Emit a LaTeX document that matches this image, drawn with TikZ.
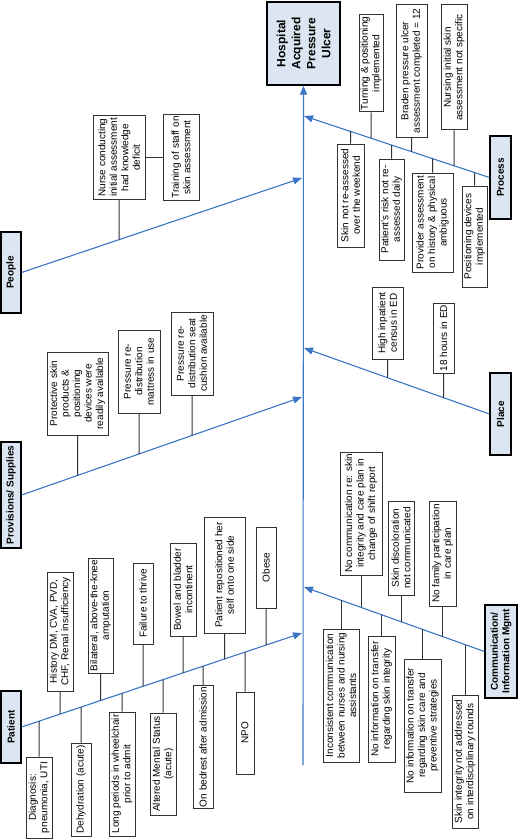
\documentclass[tikz,border=0pt]{standalone}
\usepackage{fontspec}
\setmainfont{Liberation Sans}
\usetikzlibrary{arrows.meta}

\definecolor{fishblue}{RGB}{59,117,196}
\definecolor{catfill}{RGB}{220,230,242}

\begin{document}
\begin{tikzpicture}[x=1pt,y=-1pt,
  every node/.style={font=\fontsize{10}{11.5}\selectfont},
  cause/.style={draw=black!80,fill=white,line width=1pt,rotate=90,align=center,inner sep=1pt},
  cat/.style={draw=black,fill=catfill,line width=1.2pt,rotate=90,align=center,inner sep=1pt,font=\bfseries\fontsize{10}{11.5}\selectfont},
  boxsize/.style 2 args={minimum width=#1pt,minimum height=#2pt},
  bone/.style={draw=fishblue,line width=1.1pt,-{Triangle[length=9pt,width=7pt]}},
  stem/.style={black!80,line width=1pt}
]
  \useasboundingbox (0,0) rectangle (518,840);

  \node[cat,boxsize={83}{73},line width=1.4pt,font=\bfseries\fontsize{12}{15}\selectfont] (head) at (303.5,43.5) {Hospital\\Acquired\\Pressure\\Ulcer};

  \node[cat,boxsize={81}{20}]  (people)  at (11,272.5)   {People};
  \node[cat,boxsize={106}{20}] (supply)  at (11,495)     {Provisions/ Supplies};
  \node[cat,boxsize={72}{20}]  (patient) at (11,727)     {Patient};
  \node[cat,boxsize={83}{21}]  (process) at (500.5,177.5) {Process};
  \node[cat,boxsize={82}{21}]  (place)   at (500.5,414)  {Place};
  \node[cat,boxsize={93}{32}]  (comm)    at (501,651.5)  {Communication/\\Information Mgmt};

  \coordinate (spB) at (303,765);
  \coordinate (peT) at (302,178);
  \coordinate (pvT) at (302,397);
  \coordinate (paT) at (302,633);
  \coordinate (prT) at (304,116);
  \coordinate (plT) at (304,348);
  \coordinate (coT) at (304,587);
  \coordinate (peS) at (people.south);
  \coordinate (pvS) at (supply.south);
  \coordinate (paS) at (patient.south);
  \coordinate (prS) at (process.north);
  \coordinate (plS) at (place.north);
  \coordinate (coS) at (comm.north);

  \draw[bone] (spB) -- (head.west);
  \foreach \c in {pe,pv,pa,pr,pl,co} \draw[bone] (\c S) -- (\c T);

  % people
  \node[cause,boxsize={83}{52}] (pe1) at (119,157.5) {Nurse conducting\\initial assessment\\had knowledge\\deficit};
  \node[cause,boxsize={85}{36}] (pe2) at (181,157.5) {Training of staff on\\skin assessment};
  \draw[stem] (pe1.south) -- (pe2.north);

  % process
  \node[cause,boxsize={97}{24}]  (pr1) at (371,63.5)    {Turning \& positioning\\implemented};
  \node[cause,boxsize={132}{31}] (pr2) at (411.5,71)    {Braden pressure ulcer\\assessment completed = 12};
  \node[cause,boxsize={125}{26}] (pr3) at (454,67.5)    {Nursing initial skin\\assessment not specific};
  \node[cause,boxsize={103}{27}] (pr4) at (350.5,195.5) {Skin not re-assessed\\over the weekend};
  \node[cause,boxsize={101}{25}] (pr5) at (391.5,209.5) {Patient's risk not re-\\assessed daily};
  \node[cause,boxsize={99}{41}]  (pr6) at (432.5,222.5) {Provider assessment\\on history \& physical\\ambiguous};
  \node[cause,boxsize={101}{25}] (pr7) at (474.5,236.5) {Positioning devices\\implemented};

  % place
  \node[cause,boxsize={72}{31}] (pl1) at (387.5,323) {High inpatient\\census in ED};
  \node[cause,boxsize={70}{21}] (pl2) at (443.5,338) {18 hours in ED};

  % provisions
  \node[cause,boxsize={83}{61}] (pv1) at (77.5,393.5) {Protective skin\\products \&\\positioning\\devices were\\readily available};
  \node[cause,boxsize={83}{42}] (pv2) at (139,371.5)  {Pressure re-\\distribution\\mattress in use};
  \node[cause,boxsize={83}{42}] (pv3) at (192,353.5)  {Pressure re-\\distribution seat\\cushion available};

  % patient
  \node[cause,boxsize={119}{26}] (pa1) at (60,631.5)  {History DM, CVA, PVD,\\CHF, Renal insufficiency};
  \node[cause,boxsize={115}{25}] (pa2) at (100.5,615.5) {Bilateral, above-the-knee\\amputation};
  \node[cause,boxsize={81}{20}]  (pa3) at (143,603.5) {Failure to thrive};
  \node[cause,boxsize={93}{26}]  (pa4) at (183,589.5) {Bowel and bladder\\incontinent};
  \node[cause,boxsize={116}{41}] (pa5) at (224.5,575) {Patient repositioned her\\self onto one side};
  \node[cause,boxsize={81}{20}]  (pa6) at (266,567.5) {Obese};
  \node[cause,boxsize={81}{26}]  (pa7) at (39,797.5)  {Diagnosis:\\pneumonia, UTI};
  \node[cause,boxsize={93}{20}]  (pa8) at (81,789.5)  {Dehydration (acute)};
  \node[cause,boxsize={124}{26}] (pa9) at (122,774)   {Long periods in wheelchair\\prior to admit};
  \node[cause,boxsize={102}{26}] (pa10) at (163,764)  {Altered Mental Status\\(acute)};
  \node[cause,boxsize={122}{20}] (pa11) at (203,747)  {On bedrest after admission};
  \node[cause,boxsize={82}{18}]  (pa12) at (245,733)  {NPO};

  % communication
  \node[cause,boxsize={123}{42}] (co1) at (361,513.5)   {No communication re: skin\\integrity and care plan in\\change of shift report};
  \node[cause,boxsize={94}{26}]  (co2) at (401,548)     {Skin discoloration\\not communicated};
  \node[cause,boxsize={105}{27}] (co3) at (442.5,553.5) {No family participation\\in care plan};
  \node[cause,boxsize={133}{36}] (co4) at (341,695.5)   {Inconsistent communication\\between nurses and nursing\\assistants};
  \node[cause,boxsize={126}{27}] (co5) at (381.5,699)   {No information on transfer\\regarding skin integrity};
  \node[cause,boxsize={133}{37}] (co6) at (422.5,725.5) {No information on transfer\\regarding skin care and\\preventive strategies};
  \node[cause,boxsize={133}{26}] (co7) at (465,761.5)   {Skin integrity not addressed\\on interdisciplinary rounds};

  \foreach \b/\a/\s/\t in {pe1/west/peS/peT,
      pr1/west/prS/prT,pr2/west/prS/prT,pr3/west/prS/prT,pr4/east/prS/prT,pr5/east/prS/prT,pr6/east/prS/prT,pr7/east/prS/prT,
      pl1/west/plS/plT,pl2/west/plS/plT,
      pv1/west/pvS/pvT,pv2/west/pvS/pvT,pv3/west/pvS/pvT,
      pa1/west/paS/paT,pa2/west/paS/paT,pa3/west/paS/paT,pa4/west/paS/paT,pa5/west/paS/paT,pa6/west/paS/paT,
      pa7/east/paS/paT,pa8/east/paS/paT,pa9/east/paS/paT,pa10/east/paS/paT,pa11/east/paS/paT,pa12/east/paS/paT,
      co1/west/coS/coT,co2/west/coS/coT,co3/west/coS/coT,co4/east/coS/coT,co5/east/coS/coT,co6/east/coS/coT,co7/east/coS/coT}
    \draw[stem] (\b.\a) -- (intersection of \b.west--\b.east and \s--\t);
\end{tikzpicture}
\end{document}
